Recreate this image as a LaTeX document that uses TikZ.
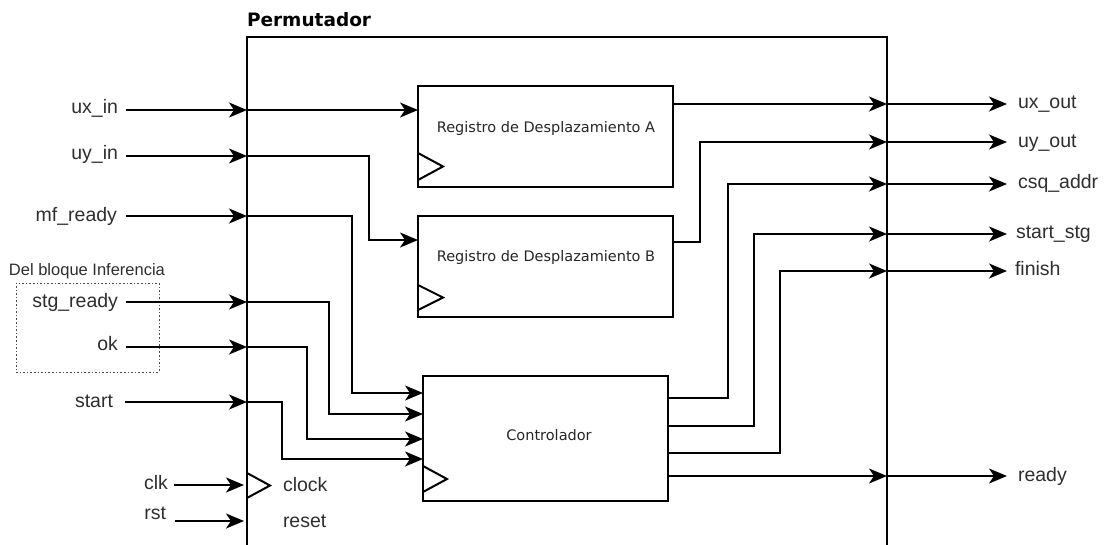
\documentclass[tikz,border=0pt]{standalone}
\usepackage{fontspec}
\setmainfont{Liberation Sans}
\newfontfamily\blockfont{DejaVu Sans}
\newfontfamily\titlefont{DejaVu Sans}
\usetikzlibrary{arrows.meta}

\begin{document}
\begin{tikzpicture}[x=1pt,y=-1pt,
  every node/.style={inner sep=0pt, outer sep=0pt},
  wire/.style={line width=2.1pt},
  sig/.style={wire, -{Stealth[length=18pt 0 0,width=15pt 0,inset=5pt 0]}},
  blk/.style={draw, line width=2.6pt, fill=white},
  frame/.style={line width=2.4pt},
  clkmark/.style={line width=2pt, line join=miter},
  port/.style={font=\fontsize{19.5}{22}\selectfont, text=black!82},
  inlbl/.style={port, anchor=base east},
  outlbl/.style={port, anchor=base west, inner xsep=11pt},
  blktxt/.style={font=\blockfont\fontsize{14.5}{17}\selectfont, text=black!85, anchor=base},
]
\useasboundingbox (0,0) rectangle (1109,544);

% ---- outer block: Permutador (open at the bottom of the sheet)
\node[minimum width=640pt, minimum height=523pt] (perm) at (567,298.5) {};
\draw[frame] (perm.south west) -- (perm.north west) -- (perm.north east) -- (perm.south east);
\node[anchor=base west, font=\titlefont\bfseries\fontsize{18.5}{22}\selectfont]
  (title) at ([yshift=11pt]perm.north west) {Permutador};

% ---- inner blocks
\node[blk, minimum width=255pt, minimum height=101pt] (regA) at (545.5,136.5) {};
\node[blk, minimum width=255pt, minimum height=101pt] (regB) at (545.5,266.5) {};
\node[blk, minimum width=245pt, minimum height=125pt] (ctrl) at (545.5,438.5) {};
\node[blktxt] (regAt) at (546,132) {Registro de Desplazamiento A};
\node[blktxt] (regBt) at (546,261) {Registro de Desplazamiento B};
\node[blktxt] (ctrlt) at (549,440) {Controlador};

% clock marks
\draw[clkmark] ([yshift=7pt]regA.south west) -- ++(25,-13.5) -- ++(-25,-13.5);
\draw[clkmark] ([yshift=7pt]regB.south west) -- ++(25,-12.5) -- ++(-25,-12.5);
\draw[clkmark] ([yshift=9pt]ctrl.south west) -- ++(24,-13) -- ++(-24,-13);
\draw[clkmark] (247,498) -- (270,485.5) -- (247,473);
\node[port, anchor=base west] (clockt) at (283,491) {clock};
\node[port, anchor=base west] (resett) at (283,527) {reset};

% ---- pins on the outer block edge
\coordinate (pux)  at (247,110);
\coordinate (puy)  at (247,156);
\coordinate (pmf)  at (247,216);
\coordinate (pstg) at (247,302);
\coordinate (pok)  at (247,347);
\coordinate (pst)  at (247,402);
\coordinate (pclk) at (244,485);
\coordinate (prst) at (244,521);
\coordinate (oux)  at (887,104);
\coordinate (ouy)  at (887,142);
\coordinate (ocsq) at (887,184);
\coordinate (ostg) at (887,234);
\coordinate (ofin) at (887,271);
\coordinate (ordy) at (887,476);

% ---- pins on the inner blocks
\coordinate (ra-in)  at (418,110);
\coordinate (ra-out) at (673,104);
\coordinate (rb-in)  at (418,240);
\coordinate (rb-out) at (673,242);
\coordinate (c-in1)  at (423,393);
\coordinate (c-in2)  at (423,414);
\coordinate (c-in3)  at (423,439);
\coordinate (c-in4)  at (423,459);
\coordinate (c-out1) at (668,398);
\coordinate (c-out2) at (668,426);
\coordinate (c-out3) at (668,453);
\coordinate (c-out4) at (668,476);

% ---- external input labels
\node[draw=black!70, line width=1pt, dash pattern=on 1.6pt off 2pt, minimum width=143pt, minimum height=89pt] (inf) at (87.5,327.5) {};
\node[port, anchor=base west, font=\fontsize{16.5}{19}\selectfont] (inft) at (9,275) {Del bloque Inferencia};

\node[inlbl, inner xsep=8pt]  (lux)  at (126,113) {ux\_in};
\node[inlbl, inner xsep=8pt]  (luy)  at (126,159) {uy\_in};
\node[inlbl, inner xsep=9pt]  (lmf)  at (126,221) {mf\_ready};
\node[inlbl, inner xsep=8pt]  (lstg) at (126,307) {stg\_ready};
\node[inlbl, inner xsep=8pt]  (lok)  at (126,350) {ok};
\node[inlbl, inner xsep=12pt] (lst)  at (125,407) {start};
\node[inlbl, inner xsep=6pt]  (lclk) at (174,489) {clk};
\node[inlbl, inner xsep=9pt]  (lrst) at (175,519) {rst};

% ---- external output labels
\node[outlbl] (lxo)  at (1007,108) {ux\_out};
\node[outlbl] (lyo)  at (1007,147) {uy\_out};
\node[outlbl] (lcsq) at (1007,188) {csq\_addr};
\node[outlbl, inner xsep=9pt] (lsst) at (1007,238) {start\_stg};
\node[outlbl, inner xsep=8pt] (lfin) at (1007,275) {finish};
\node[outlbl] (lrdy) at (1007,481) {ready};

% ---- inputs into the outer block
\draw[sig] (lux.east  |- pux)  -- (pux);
\draw[sig] (luy.east  |- puy)  -- (puy);
\draw[sig] (lmf.east  |- pmf)  -- (pmf);
\draw[sig] (lstg.east |- pstg) -- (pstg);
\draw[sig] (lok.east  |- pok)  -- (pok);
\draw[sig] (lst.east  |- pst)  -- (pst);
\draw[sig] (lclk.east |- pclk) -- (pclk);
\draw[sig] (lrst.east |- prst) -- (prst);

% ---- internal routing
\draw[sig] (pux) -- (ra-in);
\draw[sig] (puy) -- ++(122,0) |- (rb-in);
\draw[sig] (pmf) -- ++(105,0) |- (c-in1);
\draw[sig] (pstg) -- ++(82,0) |- (c-in2);
\draw[sig] (pok) -- ++(60,0) |- (c-in3);
\draw[sig] (pst) -- ++(35,0) |- (c-in4);

\draw[sig] (ra-out) -- (oux);
\draw[sig] (rb-out) -- ++(27,0) |- (ouy);
\draw[sig] (c-out1) -- ++(60,0) |- (ocsq);
\draw[sig] (c-out2) -- ++(86,0) |- (ostg);
\draw[sig] (c-out3) -- ++(112,0) |- (ofin);
\draw[sig] (c-out4) -- (ordy);

% ---- outputs leaving the outer block
\draw[sig] (oux)  -- (lxo.west  |- oux);
\draw[sig] (ouy)  -- (lyo.west  |- ouy);
\draw[sig] (ocsq) -- (lcsq.west |- ocsq);
\draw[sig] (ostg) -- (lsst.west |- ostg);
\draw[sig] (ofin) -- (lfin.west |- ofin);
\draw[sig] (ordy) -- (lrdy.west |- ordy);
\end{tikzpicture}
\end{document}
